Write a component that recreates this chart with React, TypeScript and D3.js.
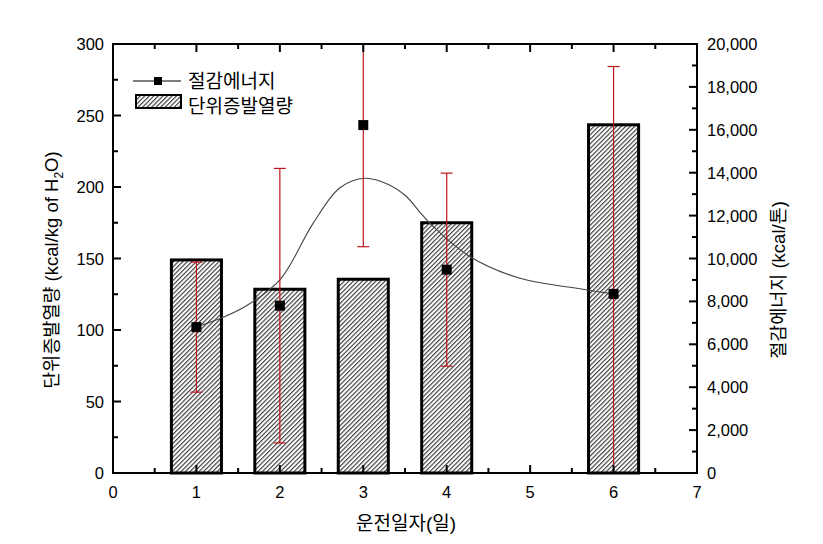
import React from "react";
import * as d3 from "d3";

const days = [1, 2, 3, 4, 6];
const heatValues = [149, 128.5, 135.5, 175, 243.5];
const energyValues = [6800, 7800, 16220, 9480, 8350];
const energyErrors = [3030, 6400, 5670, 4500, 10600];
const fitX = [1.0, 1.3, 1.6, 2.0, 2.4, 2.72, 3.02, 3.3, 3.52, 3.68, 3.84, 4.28, 4.88, 5.48, 6.0];
const fitY = [6820, 7230, 7800, 9000, 11650, 13300, 13740, 13450, 12880, 12150, 11480, 10085, 9076, 8658, 8350];
const xTicks = [0, 1, 2, 3, 4, 5, 6, 7];
const leftTicks = [0, 50, 100, 150, 200, 250, 300];
const rightTicks = [0, 2000, 4000, 6000, 8000, 10000, 12000, 14000, 16000, 18000, 20000];

const W = 823, H = 544;
const L = 113, R = 697, T = 44, B = 473;
const numFont = "'Liberation Sans', Arial, sans-serif";
const korFont = "'Liberation Sans', 'Noto Sans CJK KR', sans-serif";

export default function App() {
  const x = d3.scaleLinear().domain([0, 7]).range([L, R]);
  const yL = d3.scaleLinear().domain([0, 300]).range([B, T]);
  const yR = d3.scaleLinear().domain([0, 20000]).range([B, T]);
  const barW = x(0.6) - x(0);
  const line = d3.line<number>().x((_, i) => x(fitX[i])).y((d) => yR(d)).curve(d3.curveCatmullRom);

  const xMinor = d3.range(0, 7.01, 0.5);
  const lMinor = d3.range(0, 300.1, 25);
  const rMinor = d3.range(0, 20001, 1000);
  const errColor = "#c0141c";

  return (
    <svg width={W} height={H} style={{ position: "absolute", left: 0, top: 0, background: "#fff" }}>
      <defs>
        <pattern id="hatch" patternUnits="userSpaceOnUse" width="3.2" height="3.2" patternTransform="rotate(45)">
          <rect width="3.2" height="3.2" fill="#fff" />
          <line x1="0.6" y1="0" x2="0.6" y2="3.2" stroke="#333" strokeWidth="1.1" />
        </pattern>
        <clipPath id="plotClip">
          <rect x={L} y={T} width={R - L} height={B - T} />
        </clipPath>
      </defs>

      {days.map((d, i) => (
        <rect key={"b" + i} x={x(d) - barW / 2} y={yL(heatValues[i])} width={barW} height={B - yL(heatValues[i])}
          fill="url(#hatch)" stroke="#000" strokeWidth={3} />
      ))}

      <path d={line(fitY) || ""} fill="none" stroke="#444" strokeWidth={1.1} />

      <g clipPath="url(#plotClip)">
        {days.map((d, i) => {
          const hi = energyValues[i] + energyErrors[i];
          const lo = energyValues[i] - energyErrors[i];
          const cx = x(d);
          return (
            <g key={"e" + i} stroke={errColor} strokeWidth={1.2}>
              <line x1={cx} x2={cx} y1={yR(hi)} y2={yR(lo)} />
              {hi <= 20000 && <line x1={cx - 6} x2={cx + 6} y1={yR(hi)} y2={yR(hi)} />}
              {lo >= 0 && <line x1={cx - 6} x2={cx + 6} y1={yR(lo)} y2={yR(lo)} />}
            </g>
          );
        })}
      </g>

      {days.map((d, i) => (
        <rect key={"m" + i} x={x(d) - 5} y={yR(energyValues[i]) - 5} width={10} height={10} fill="#000" />
      ))}

      <rect x={L} y={T} width={R - L} height={B - T} fill="none" stroke="#000" strokeWidth={2} />

      {xMinor.map((v) => {
        const major = Math.abs(v - Math.round(v)) < 1e-6;
        const len = major ? 8 : 5;
        return (
          <g key={"xt" + v} stroke="#000" strokeWidth={2}>
            <line x1={x(v)} x2={x(v)} y1={B} y2={B - len} />
            <line x1={x(v)} x2={x(v)} y1={T} y2={T + len} />
          </g>
        );
      })}
      {xTicks.map((v) => (
        <text key={"xl" + v} x={x(v)} y={B + 25} textAnchor="middle" fontFamily={numFont} fontSize={16.5} fill="#000">{v}</text>
      ))}

      {lMinor.map((v) => {
        const major = v % 50 === 0;
        return <line key={"lt" + v} x1={L} x2={L + (major ? 8 : 5)} y1={yL(v)} y2={yL(v)} stroke="#000" strokeWidth={2} />;
      })}
      {leftTicks.map((v) => (
        <text key={"ll" + v} x={L - 9} y={yL(v) + 6} textAnchor="end" fontFamily={numFont} fontSize={16.5} fill="#000">{v}</text>
      ))}

      {rMinor.map((v) => {
        const major = v % 2000 === 0;
        return <line key={"rt" + v} x1={R} x2={R - (major ? 8 : 5)} y1={yR(v)} y2={yR(v)} stroke="#000" strokeWidth={2} />;
      })}
      {rightTicks.map((v) => (
        <text key={"rl" + v} x={R + 10} y={yR(v) + 6} textAnchor="start" fontFamily={numFont} fontSize={16.5} fill="#000">{d3.format(",")(v)}</text>
      ))}

      <text x={406} y={530} textAnchor="middle" fontFamily={korFont} fontSize={19} fill="#000">운전일자(일)</text>
      <text transform={`translate(58,270) rotate(-90)`} textAnchor="middle" fontFamily={korFont} fontSize={18.5} fill="#000">
        <tspan>단위증발열량 (kcal/kg of H</tspan><tspan dy={5} fontSize={12}>2</tspan><tspan dy={-5}>O)</tspan>
      </text>
      <text transform={`translate(785,280) rotate(-90)`} textAnchor="middle" fontFamily={korFont} fontSize={18.5} fill="#000">
        절감에너지 (kcal/톤)
      </text>

      <line x1={133} x2={181} y1={81} y2={81} stroke="#000" strokeWidth={1} />
      <rect x={154} y={77} width={8} height={8} fill="#000" />
      <text x={188} y={88} fontFamily={korFont} fontSize={19} fill="#000">절감에너지</text>
      <rect x={136} y={95} width={45} height={13} fill="url(#hatch)" stroke="#000" strokeWidth={2} />
      <text x={188} y={113} fontFamily={korFont} fontSize={19} fill="#000">단위증발열량</text>
    </svg>
  );
}
